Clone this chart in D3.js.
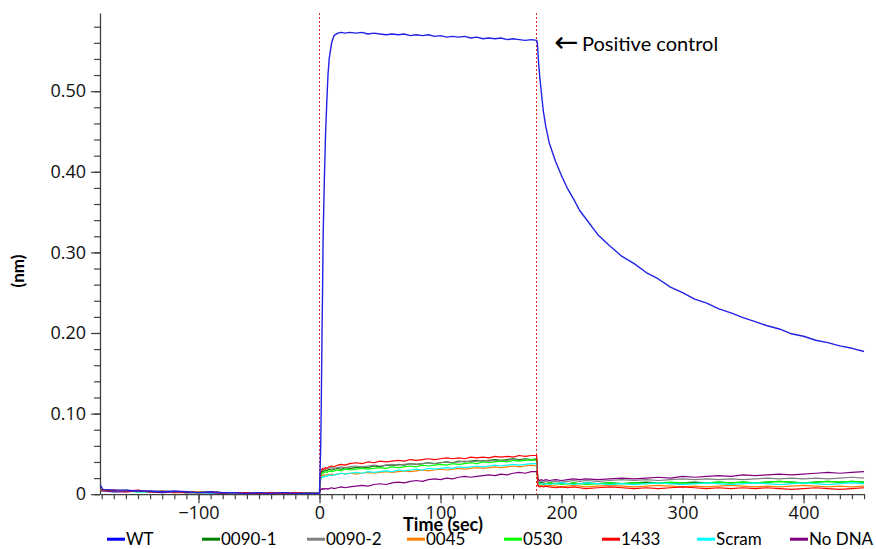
<!DOCTYPE html>
<html>
<head>
<meta charset="utf-8">
<script src="https://cdn.jsdelivr.net/npm/d3@7"></script>
<style>
  body { margin: 0; background: #fff; }
</style>
</head>
<body>
<div id="chart"></div>
<script>
// sample times (sec): baseline, association, dissociation
const time = [
  -181, -179, -170, -160, -150, -140, -130, -120, -110, -100, -90, -80, -70, -60, -50, -40, -30, -20, -10, -0.5,
  0, 0.5, 1, 1.5, 2, 2.5, 3, 4, 5, 6, 7, 8, 10, 12, 15, 18, 21,
  25, 30, 35, 40, 45, 50, 55, 60, 65, 70, 75, 80, 85, 90, 95, 100, 105, 110, 115, 120, 125, 130, 135, 140, 145, 150, 155, 160, 165, 170, 175, 179.5,
  180, 180.5, 181, 182, 183, 185, 187, 190, 195, 200, 205, 210, 215,
  220, 230, 240, 250, 260, 270, 280, 290, 300, 310, 320, 330, 340, 350, 360, 370, 380, 390, 400, 410, 420, 430, 440, 450
];

// response (nm) per sensor, same order as time
const wt = [
  0.011, 0.006, 0.005, 0.005, 0.004, 0.004, 0.003, 0.004, 0.003, 0.002, 0.003, 0.002, 0.002, 0.001, 0.002, 0.001, 0.002, 0.001, 0.001, 0.001,
  0.001, 0.030, 0.060, 0.120, 0.190, 0.250, 0.320, 0.390, 0.447, 0.486, 0.520, 0.540, 0.560, 0.569, 0.572, 0.573, 0.572,
  0.573, 0.572, 0.573, 0.571, 0.572, 0.571, 0.570, 0.571, 0.570, 0.571, 0.569, 0.570, 0.569, 0.570, 0.568, 0.569, 0.567, 0.568, 0.567, 0.568, 0.566, 0.567, 0.565, 0.566, 0.565, 0.566, 0.564, 0.565, 0.564, 0.563, 0.564, 0.563,
  0.560, 0.548, 0.536, 0.518, 0.503, 0.475, 0.456, 0.435, 0.413, 0.395, 0.379, 0.366, 0.352,
  0.342, 0.322, 0.308, 0.295, 0.286, 0.275, 0.267, 0.257, 0.250, 0.242, 0.237, 0.230, 0.225, 0.219, 0.214, 0.209, 0.205, 0.199, 0.196, 0.191, 0.188, 0.184, 0.181, 0.177
];
const s0090a = [
  0.006, 0.005, 0.004, 0.005, 0.003, 0.004, 0.003, 0.003, 0.002, 0.003, 0.002, 0.002, 0.001, 0.002, 0.001, 0.002, 0.001, 0.001, 0.002, 0.001,
  0.001, 0.015, 0.024, 0.027, 0.028, 0.029, 0.028, 0.029, 0.030, 0.029, 0.030, 0.031, 0.030, 0.031, 0.032, 0.031, 0.033,
  0.032, 0.033, 0.034, 0.033, 0.035, 0.034, 0.036, 0.035, 0.037, 0.036, 0.038, 0.037, 0.038, 0.039, 0.038, 0.039, 0.040, 0.039, 0.041, 0.040, 0.041, 0.042, 0.041, 0.042, 0.043, 0.042, 0.043, 0.044, 0.043, 0.044, 0.043, 0.044,
  0.030, 0.016, 0.015, 0.014, 0.015, 0.014, 0.013, 0.014, 0.013, 0.014, 0.013, 0.014, 0.013,
  0.014, 0.013, 0.014, 0.013, 0.014, 0.015, 0.014, 0.013, 0.014, 0.015, 0.014, 0.015, 0.014, 0.015, 0.014, 0.015, 0.016, 0.015, 0.014, 0.015, 0.016, 0.015, 0.016, 0.015
];
const s0090b = [
  0.005, 0.005, 0.004, 0.004, 0.004, 0.003, 0.003, 0.002, 0.003, 0.002, 0.002, 0.002, 0.001, 0.001, 0.002, 0.001, 0.001, 0.001, 0.001, 0.001,
  0.001, 0.016, 0.026, 0.029, 0.030, 0.030, 0.031, 0.030, 0.031, 0.032, 0.031, 0.032, 0.033, 0.032, 0.033, 0.034, 0.033,
  0.034, 0.035, 0.034, 0.035, 0.036, 0.035, 0.036, 0.037, 0.036, 0.037, 0.038, 0.037, 0.038, 0.039, 0.038, 0.039, 0.040, 0.039, 0.040, 0.041, 0.040, 0.041, 0.042, 0.041, 0.042, 0.041, 0.042, 0.043, 0.042, 0.043, 0.042, 0.043,
  0.030, 0.017, 0.016, 0.015, 0.016, 0.015, 0.016, 0.015, 0.016, 0.015, 0.016, 0.017, 0.016,
  0.017, 0.016, 0.017, 0.018, 0.017, 0.018, 0.017, 0.018, 0.019, 0.018, 0.019, 0.018, 0.019, 0.018, 0.019, 0.020, 0.019, 0.020, 0.019, 0.020, 0.019, 0.020, 0.021, 0.020
];
const s0045 = [
  0.005, 0.004, 0.005, 0.003, 0.004, 0.003, 0.003, 0.002, 0.002, 0.003, 0.002, 0.001, 0.002, 0.001, 0.001, 0.002, 0.001, 0.001, 0.001, 0.001,
  0.001, 0.012, 0.020, 0.022, 0.023, 0.024, 0.023, 0.024, 0.023, 0.024, 0.025, 0.024, 0.025, 0.024, 0.025, 0.026, 0.025,
  0.026, 0.025, 0.026, 0.027, 0.026, 0.027, 0.028, 0.027, 0.028, 0.029, 0.028, 0.029, 0.030, 0.029, 0.030, 0.031, 0.030, 0.031, 0.032, 0.031, 0.032, 0.033, 0.032, 0.033, 0.034, 0.033, 0.034, 0.035, 0.034, 0.035, 0.036, 0.035,
  0.025, 0.011, 0.010, 0.011, 0.010, 0.011, 0.010, 0.011, 0.010, 0.009, 0.010, 0.011, 0.010,
  0.009, 0.010, 0.011, 0.010, 0.009, 0.010, 0.011, 0.010, 0.009, 0.010, 0.009, 0.010, 0.011, 0.010, 0.009, 0.010, 0.009, 0.010, 0.011, 0.010, 0.009, 0.010, 0.009, 0.010
];
const s0530 = [
  0.005, 0.005, 0.004, 0.004, 0.003, 0.003, 0.004, 0.003, 0.002, 0.002, 0.003, 0.002, 0.001, 0.002, 0.001, 0.001, 0.001, 0.002, 0.001, 0.001,
  0.001, 0.014, 0.022, 0.025, 0.026, 0.027, 0.026, 0.027, 0.028, 0.027, 0.028, 0.029, 0.028, 0.029, 0.030, 0.029, 0.031,
  0.030, 0.031, 0.032, 0.031, 0.032, 0.033, 0.032, 0.034, 0.033, 0.034, 0.035, 0.034, 0.036, 0.035, 0.036, 0.037, 0.036, 0.038, 0.037, 0.038, 0.039, 0.038, 0.040, 0.039, 0.040, 0.041, 0.040, 0.042, 0.041, 0.042, 0.043, 0.042,
  0.028, 0.014, 0.013, 0.014, 0.013, 0.012, 0.013, 0.014, 0.013, 0.012, 0.013, 0.014, 0.013,
  0.012, 0.013, 0.014, 0.013, 0.014, 0.013, 0.014, 0.015, 0.014, 0.013, 0.014, 0.015, 0.014, 0.015, 0.014, 0.015, 0.016, 0.015, 0.014, 0.015, 0.016, 0.015, 0.016, 0.015
];
const s1433 = [
  0.006, 0.005, 0.005, 0.004, 0.005, 0.003, 0.004, 0.003, 0.003, 0.002, 0.003, 0.002, 0.002, 0.002, 0.001, 0.002, 0.001, 0.002, 0.001, 0.001,
  0.002, 0.018, 0.027, 0.030, 0.031, 0.032, 0.031, 0.032, 0.033, 0.032, 0.033, 0.034, 0.035, 0.034, 0.036, 0.037, 0.036,
  0.038, 0.039, 0.038, 0.040, 0.039, 0.041, 0.040, 0.041, 0.042, 0.041, 0.043, 0.042, 0.043, 0.044, 0.043, 0.044, 0.045, 0.044, 0.045, 0.044, 0.046, 0.045, 0.046, 0.045, 0.047, 0.046, 0.047, 0.046, 0.048, 0.047, 0.048, 0.048,
  0.030, 0.011, 0.010, 0.009, 0.010, 0.009, 0.010, 0.009, 0.008, 0.009, 0.008, 0.009, 0.008,
  0.007, 0.008, 0.009, 0.008, 0.007, 0.008, 0.007, 0.008, 0.009, 0.008, 0.007, 0.008, 0.007, 0.008, 0.007, 0.008, 0.007, 0.006, 0.007, 0.008, 0.007, 0.006, 0.007, 0.008
];
const sScram = [
  0.004, 0.004, 0.003, 0.004, 0.003, 0.003, 0.002, 0.003, 0.002, 0.002, 0.001, 0.002, 0.001, 0.002, 0.001, 0.001, 0.002, 0.001, 0.001, 0.001,
  0.001, 0.011, 0.018, 0.020, 0.021, 0.022, 0.021, 0.022, 0.023, 0.022, 0.023, 0.024, 0.023, 0.024, 0.025, 0.026, 0.025,
  0.026, 0.027, 0.026, 0.028, 0.027, 0.028, 0.029, 0.028, 0.030, 0.029, 0.030, 0.031, 0.030, 0.032, 0.031, 0.032, 0.033, 0.032, 0.034, 0.033, 0.034, 0.035, 0.034, 0.035, 0.036, 0.035, 0.036, 0.037, 0.036, 0.037, 0.038, 0.038,
  0.026, 0.014, 0.013, 0.012, 0.013, 0.012, 0.013, 0.012, 0.013, 0.014, 0.013, 0.012, 0.013,
  0.014, 0.013, 0.012, 0.013, 0.012, 0.013, 0.014, 0.013, 0.012, 0.013, 0.014, 0.013, 0.012, 0.013, 0.014, 0.013, 0.012, 0.013, 0.014, 0.013, 0.012, 0.013, 0.014, 0.013
];
const sNoDna = [
  0.004, 0.004, 0.003, 0.003, 0.004, 0.003, 0.002, 0.003, 0.002, 0.002, 0.002, 0.001, 0.002, 0.001, 0.001, 0.001, 0.002, 0.001, 0.001, 0.001,
  0.001, 0.004, 0.006, 0.006, 0.007, 0.006, 0.007, 0.006, 0.007, 0.007, 0.006, 0.007, 0.008, 0.007, 0.008, 0.009, 0.008,
  0.009, 0.010, 0.011, 0.010, 0.012, 0.013, 0.012, 0.014, 0.015, 0.014, 0.016, 0.017, 0.016, 0.018, 0.019, 0.018, 0.020, 0.019, 0.021, 0.022, 0.021, 0.022, 0.023, 0.024, 0.023, 0.025, 0.024, 0.026, 0.027, 0.026, 0.028, 0.028,
  0.024, 0.018, 0.018, 0.017, 0.018, 0.017, 0.018, 0.017, 0.018, 0.017, 0.018, 0.019, 0.018,
  0.019, 0.018, 0.019, 0.020, 0.019, 0.020, 0.021, 0.020, 0.022, 0.021, 0.022, 0.023, 0.022, 0.024, 0.023, 0.024, 0.025, 0.024, 0.025, 0.026, 0.027, 0.026, 0.027, 0.028
];

const seriesNames = ["WT", "0090-1", "0090-2", "0045", "0530", "1433", "Scram", "No DNA"];
const seriesValues = [wt, s0090a, s0090b, s0045, s0530, s1433, sScram, sNoDna];
const seriesColors = ["#0000ff", "#008000", "#808080", "#ff8000", "#00ff00", "#ff0000", "#00ffff", "#800080"];

const xTicks = [-100, 0, 100, 200, 300, 400];
const yTicks = [0, 0.1, 0.2, 0.3, 0.4, 0.5];
const phaseStarts = [0, 180];

// layout
const width = 876;
const height = 549;
const legendOffsets = [107, 202, 307, 407, 504, 602, 697, 790];

const svg = d3.select("#chart").append("svg")
  .attr("width", width)
  .attr("height", height)
  .style("display", "block");

const x = d3.scaleLinear().domain([-181.4, 450.2]).range([100, 864.3]);
const y = d3.scaleLinear().domain([0, 0.597]).range([494.2, 13]);

const axisColor = "#404040";
const tickFont = "'Open Sans', 'Liberation Sans', sans-serif";
const labelFont = "Lato, 'Open Sans', sans-serif";

// x axis: minor then major ticks
svg.append("g")
  .attr("transform", `translate(0, ${y(0)})`)
  .call(d3.axisBottom(x).tickValues(d3.range(-180, 451, 10)).tickSize(5).tickSizeOuter(0).tickFormat(""))
  .call(g => g.select(".domain").attr("stroke", axisColor).attr("stroke-width", 1.3))
  .call(g => g.selectAll(".tick line").attr("stroke", axisColor).attr("stroke-width", 1.2));

svg.append("g")
  .attr("transform", `translate(0, ${y(0)})`)
  .call(d3.axisBottom(x).tickValues(xTicks).tickSize(9).tickPadding(3).tickFormat(d3.format("d")))
  .call(g => g.select(".domain").remove())
  .call(g => g.selectAll(".tick line").attr("stroke", axisColor).attr("stroke-width", 1.2))
  .call(g => g.selectAll("text").attr("fill", "#111").style("font-family", tickFont).style("font-size", "18px"));

// y axis
svg.append("g")
  .attr("transform", `translate(${x.range()[0]}, 0)`)
  .call(d3.axisLeft(y).tickValues(d3.range(0, 0.59, 0.02)).tickSize(6).tickSizeOuter(0).tickFormat(""))
  .call(g => g.select(".domain").attr("stroke", axisColor).attr("stroke-width", 1.3))
  .call(g => g.selectAll(".tick line").attr("stroke", axisColor).attr("stroke-width", 1.2));

svg.append("g")
  .attr("transform", `translate(${x.range()[0]}, 0)`)
  .call(d3.axisLeft(y).tickValues(yTicks).tickSize(9).tickPadding(5).tickFormat(d => d === 0 ? "0" : d3.format(".2f")(d)))
  .call(g => g.select(".domain").remove())
  .call(g => g.selectAll(".tick line").attr("stroke", axisColor).attr("stroke-width", 1.2))
  .call(g => g.selectAll("text").attr("fill", "#111").style("font-family", tickFont).style("font-size", "18px"));

// phase boundaries, snapped to the pixel grid so the dots stay red
svg.append("g").selectAll("line")
  .data(phaseStarts)
  .join("line")
    .attr("x1", d => Math.round(x(d)) - 0.5).attr("x2", d => Math.round(x(d)) - 0.5)
    .attr("y1", y.range()[1]).attr("y2", y(0))
    .attr("stroke", "#e32b2b")
    .attr("stroke-width", 1)
    .attr("stroke-dasharray", "2,2");

// sensorgrams, WT on top
const line = d3.line()
  .x((d, i) => x(time[i]))
  .y(d => y(d));

const order = [1, 2, 3, 4, 6, 7, 5, 0];
svg.append("g").selectAll("path")
  .data(order)
  .join("path")
    .attr("fill", "none")
    .attr("stroke", i => i === 0 ? "#2222e6" : seriesColors[i])
    .attr("stroke-width", i => i === 0 ? 1.4 : 1.2)
    .attr("stroke-linejoin", "round")
    .attr("d", i => line(seriesValues[i]));

// axis titles
svg.append("text")
  .text("Time (sec)")
  .attr("x", 443)
  .attr("y", 531)
  .attr("text-anchor", "middle")
  .attr("font-family", labelFont)
  .attr("font-weight", "bold")
  .attr("font-size", 18)
  .attr("fill", "#000");

svg.append("text")
  .text("(nm)")
  .attr("transform", "translate(24, 271) rotate(-90)")
  .attr("text-anchor", "middle")
  .attr("font-family", labelFont)
  .attr("font-weight", "bold")
  .attr("font-size", 17)
  .attr("fill", "#000");

// annotation
svg.append("text")
  .text("\u2190")
  .attr("x", 554)
  .attr("y", 52)
  .attr("font-family", "'DejaVu Sans', sans-serif")
  .attr("font-size", 29)
  .attr("fill", "#000");

svg.append("text")
  .text("Positive control")
  .attr("x", 582)
  .attr("y", 50.5)
  .attr("font-family", labelFont)
  .attr("font-size", 20)
  .attr("fill", "#000");

// legend
const legend = svg.append("g").selectAll("g")
  .data(seriesNames)
  .join("g")
    .attr("transform", (d, i) => `translate(${legendOffsets[i]}, 539.2)`);

legend.append("line")
  .attr("x1", 0).attr("x2", 18)
  .attr("stroke", (d, i) => seriesColors[i])
  .attr("stroke-width", 3);

legend.append("text")
  .text(d => d)
  .attr("x", 19)
  .attr("dy", "0.36em")
  .attr("font-family", labelFont)
  .attr("font-size", 17)
  .attr("fill", "#000");
</script>
</body>
</html>
